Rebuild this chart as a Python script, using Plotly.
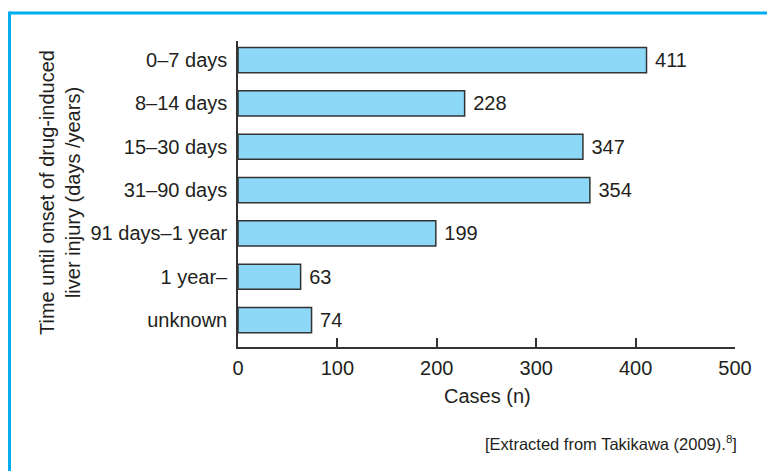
import plotly.graph_objects as go

# Onset intervals and case counts
categories = ["0–7 days", "8–14 days", "15–30 days", "31–90 days",
              "91 days–1 year", "1 year–", "unknown"]
cases = [411, 228, 347, 354, 199, 63, 74]
x_ticks = [0, 100, 200, 300, 400, 500]

W, H = 767, 471
L, R, T, B = 238, 32, 41, 124
PW, PH = W - L - R, H - T - B


def px_x(px):
    return (px - L) / PW


def px_y(py):
    return (H - B - py) / PH


FONT = "Liberation Sans, Arial, Helvetica, sans-serif"
INK = "#231f20"
CYAN = "#00aeef"
FS = 20

fig = go.Figure(
    go.Bar(
        x=cases,
        y=categories,
        orientation="h",
        width=0.58,
        marker=dict(color="#8dd7f7", line=dict(color="#333333", width=1.5)),
        text=[str(v) for v in cases],
        texttemplate=" %{text}",
        textposition="outside",
        textfont=dict(family=FONT, size=FS, color=INK),
        cliponaxis=False,
        hoverinfo="skip",
    )
)

fig.update_layout(
    width=W,
    height=H,
    margin=dict(l=L, r=R, t=T, b=B, pad=0),
    paper_bgcolor="white",
    plot_bgcolor="white",
    showlegend=False,
    font=dict(family=FONT, size=FS, color=INK),
    xaxis=dict(
        range=[0, 500],
        tickvals=x_ticks,
        ticktext=[str(v) for v in x_ticks],
        ticks="inside",
        ticklen=9,
        tickwidth=1.5,
        tickcolor="#333333",
        showline=True,
        linecolor="#333333",
        linewidth=1.5,
        showgrid=False,
        zeroline=False,
        ticklabelstandoff=2,
        tickfont=dict(size=FS),
    ),
    yaxis=dict(
        type="category",
        categoryorder="array",
        categoryarray=categories,
        range=[6.62, -0.44],
        showline=True,
        linecolor="#333333",
        linewidth=1.5,
        showgrid=False,
        zeroline=False,
        ticks="",
        ticklabelstandoff=5,
        tickfont=dict(size=FS),
    ),
    annotations=[
        dict(
            text="Time until onset of drug-induced<br>liver injury (days /years)",
            xref="paper", yref="paper",
            x=px_x(60), y=px_y(193),
            textangle=-90, showarrow=False,
            xanchor="center", yanchor="middle",
            font=dict(size=FS, color=INK),
        ),
        dict(
            text="Cases (n)",
            xref="paper", yref="paper",
            x=px_x(487), y=px_y(396),
            showarrow=False, xanchor="center", yanchor="middle",
            font=dict(size=FS, color=INK),
        ),
        dict(
            text="[Extracted from Takikawa (2009).<sup>8</sup>]",
            xref="paper", yref="paper",
            x=px_x(739), y=px_y(443),
            showarrow=False, xanchor="right", yanchor="middle",
            font=dict(size=16.5, color=INK),
        ),
    ],
    shapes=[
        # cyan frame along the top and left edges
        dict(type="line", xref="paper", yref="paper",
             x0=px_x(9.5), x1=px_x(W + 5), y0=px_y(13), y1=px_y(13),
             line=dict(color=CYAN, width=3)),
        dict(type="line", xref="paper", yref="paper",
             x0=px_x(9.5), x1=px_x(9.5), y0=px_y(11.5), y1=px_y(H + 5),
             line=dict(color=CYAN, width=3)),
    ],
)

fig.write_html("out.html")
